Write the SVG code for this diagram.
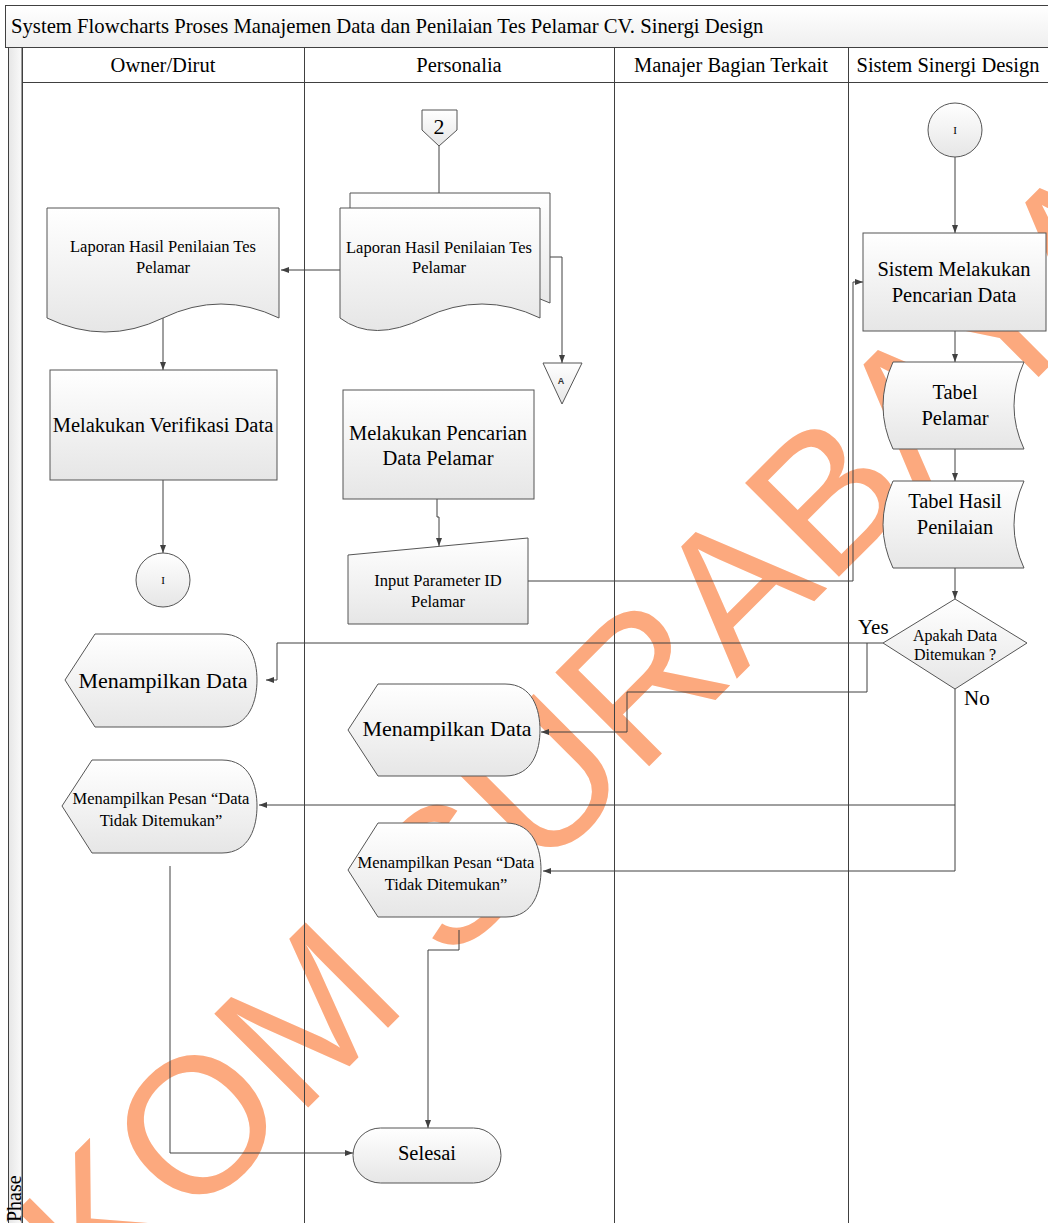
<svg xmlns="http://www.w3.org/2000/svg" width="1048" height="1223" viewBox="0 0 1048 1223">
  <defs>
    <linearGradient id="shade" x1="0" y1="0" x2="0" y2="1">
      <stop offset="0" stop-color="#ffffff"/>
      <stop offset="1" stop-color="#e6e6e6"/>
    </linearGradient>
    <linearGradient id="barShade" x1="0" y1="0" x2="0" y2="1">
      <stop offset="0" stop-color="#ffffff"/>
      <stop offset="1" stop-color="#efefef"/>
    </linearGradient>
    <linearGradient id="stripShade" x1="0" y1="0" x2="1" y2="0">
      <stop offset="0" stop-color="#e6e6e6"/>
      <stop offset="1" stop-color="#fafafa"/>
    </linearGradient>
    <marker id="arrow" viewBox="0 0 8 6" refX="8" refY="3" markerWidth="8" markerHeight="6" markerUnits="userSpaceOnUse" orient="auto">
      <path d="M0,0 L8,3 L0,6 z" fill="#404040"/>
    </marker>
  </defs>
  <style>
    .t { font-family: "Liberation Serif", "Times New Roman", serif; fill: #000; }
    .shape { fill: url(#shade); stroke: #555; stroke-width: 1; }
    .lane { fill: none; stroke: #404040; stroke-width: 1; }
    .conn-a { fill: none; stroke: #404040; stroke-width: 1; marker-end: url(#arrow); }
    .wm { font-family: "Liberation Sans", Arial, sans-serif; fill: #fca97e; }
  </style>

  <rect x="0" y="0" width="1048" height="1223" fill="#ffffff"/>

  <!-- watermark behind the chart -->
  <g id="watermark">
    <text class="wm" font-size="193" x="-504" y="69" transform="translate(195,1123) rotate(-45)">STIKOM SURABAYA</text>
  </g>

  <!-- pool frame, title bar and swimlanes -->
  <g id="pool">
    <rect x="5.5" y="5.5" width="1050" height="42" fill="url(#barShade)" stroke="#404040"/>
    <text class="t" x="11" y="33" font-size="20.7">System Flowcharts Proses Manajemen Data dan Penilaian Tes Pelamar CV. Sinergi Design</text>
    <rect x="8.5" y="47.5" width="13.5" height="1180" fill="url(#stripShade)" stroke="#404040"/>
    <text class="t" font-size="20" transform="translate(21,1222) rotate(-90)">Phase</text>
    <rect x="22" y="48" width="1030" height="34" fill="#ffffff"/>
    <path class="lane" d="M22,82.5 H1048"/>
    <path class="lane" d="M22.5,48 V1223 M304.5,48 V1223 M614.5,48 V1223 M848.5,48 V1223"/>
    <text class="t" x="163" y="72" font-size="20.5" text-anchor="middle">Owner/Dirut</text>
    <text class="t" x="459" y="72" font-size="20.5" text-anchor="middle">Personalia</text>
    <text class="t" x="731" y="72" font-size="20.5" text-anchor="middle">Manajer Bagian Terkait</text>
    <text class="t" x="948" y="72" font-size="20.5" text-anchor="middle">Sistem Sinergi Design</text>
  </g>

  <!-- connectors -->
  <g id="connectors">
    <path class="conn-a" d="M439,146 V207"/>
    <path class="conn-a" d="M340,270 H281"/>
    <path class="conn-a" d="M550,257 H562 V363"/>
    <path class="conn-a" d="M163,318 V370"/>
    <path class="conn-a" d="M163,480 V553"/>
    <path class="conn-a" d="M437,499 V517 H439 V546"/>
    <path class="conn-a" d="M528,581 H853 V282 H863"/>
    <path class="conn-a" d="M955,157 V233"/>
    <path class="conn-a" d="M955,331 V362"/>
    <path class="conn-a" d="M955,449 V481"/>
    <path class="conn-a" d="M955,568 V599"/>
    <path class="conn-a" d="M883,643 H277 V680 H266"/>
    <path class="conn-a" d="M867,643 V692 H627 V732 H541"/>
    <path class="conn-a" d="M955,689 V805 H259"/>
    <path class="conn-a" d="M955,805 V871 H543"/>
    <path class="conn-a" d="M170,866 V1153 H353"/>
    <path class="conn-a" d="M459,930 V950 H428 V1128"/>
  </g>

  <!-- Owner/Dirut lane -->
  <g id="owner-laporan">
    <path class="shape" d="M47,208 H279 V318 Q221,290 163,318 Q105,346 47,318 Z"/>
    <text class="t" font-size="16.5" text-anchor="middle"><tspan x="163" y="252">Laporan Hasil Penilaian Tes</tspan><tspan x="163" y="273">Pelamar</tspan></text>
  </g>
  <g id="owner-verifikasi">
    <rect class="shape" x="50" y="370" width="227" height="110"/>
    <text class="t" x="163" y="432" font-size="20.5" text-anchor="middle">Melakukan Verifikasi Data</text>
  </g>
  <g id="owner-connector-i">
    <circle class="shape" cx="163" cy="580" r="27"/>
    <text class="t" x="163" y="584" font-size="11" text-anchor="middle">I</text>
  </g>
  <g id="owner-tampil-data">
    <path class="shape" d="M65,680 L95,634 H222 C250,634 257,660 257,680 C257,700 250,727 222,727 H95 Z"/>
    <text class="t" x="163" y="688" font-size="22" text-anchor="middle">Menampilkan Data</text>
  </g>
  <g id="owner-tampil-pesan">
    <path class="shape" d="M62,806 L92,760 H222 C250,760 257,786 257,806 C257,826 250,853 222,853 H92 Z"/>
    <text class="t" font-size="16.5" text-anchor="middle"><tspan x="161" y="804">Menampilkan Pesan “Data</tspan><tspan x="161" y="826">Tidak Ditemukan”</tspan></text>
  </g>

  <!-- Personalia lane -->
  <g id="personalia-offpage-2">
    <path class="shape" d="M422,110 H457 V130 L439,146 L422,130 Z"/>
    <text class="t" x="439" y="134" font-size="22" text-anchor="middle">2</text>
  </g>
  <g id="personalia-laporan">
    <path class="shape" d="M350,193 H550 V303 Q490,275 430,303 Q380,328 350,303 Z"/>
    <path class="shape" d="M340,208 H540 V318 Q482,290 424,318 Q373,343 340,318 Z"/>
    <text class="t" font-size="16.5" text-anchor="middle"><tspan x="439" y="253">Laporan Hasil Penilaian Tes</tspan><tspan x="439" y="273">Pelamar</tspan></text>
  </g>
  <g id="personalia-offpage-a">
    <path class="shape" d="M543,363 H582 L562,404 Z"/>
    <text x="561" y="384" font-size="9" font-weight="bold" font-family="Liberation Sans, Arial, sans-serif" fill="#333" text-anchor="middle">A</text>
  </g>
  <g id="personalia-pencarian">
    <rect class="shape" x="343" y="390" width="191" height="109"/>
    <text class="t" font-size="20.5" text-anchor="middle"><tspan x="438" y="440">Melakukan Pencarian</tspan><tspan x="438" y="465">Data Pelamar</tspan></text>
  </g>
  <g id="personalia-input">
    <path class="shape" d="M348,555 L528,538 V624 H348 Z"/>
    <text class="t" font-size="16.5" text-anchor="middle"><tspan x="438" y="586">Input Parameter ID</tspan><tspan x="438" y="607">Pelamar</tspan></text>
  </g>
  <g id="personalia-tampil-data">
    <path class="shape" d="M348,730 L378,684 H505 C533,684 540,710 540,730 C540,750 533,776 505,776 H378 Z"/>
    <text class="t" x="447" y="736" font-size="22" text-anchor="middle">Menampilkan Data</text>
  </g>
  <g id="personalia-tampil-pesan">
    <path class="shape" d="M348,870 L378,823 H506 C534,823 541,850 541,870 C541,890 534,917 506,917 H378 Z"/>
    <text class="t" font-size="16.5" text-anchor="middle"><tspan x="446" y="868">Menampilkan Pesan “Data</tspan><tspan x="446" y="890">Tidak Ditemukan”</tspan></text>
  </g>
  <g id="selesai">
    <rect class="shape" x="353" y="1128" width="148" height="55" rx="27.5" ry="27.5"/>
    <text class="t" x="427" y="1160" font-size="20.5" text-anchor="middle">Selesai</text>
  </g>

  <!-- Sistem Sinergi Design lane -->
  <g id="sistem-connector-i">
    <circle class="shape" cx="955" cy="130" r="27"/>
    <text class="t" x="955" y="134" font-size="11" text-anchor="middle">I</text>
  </g>
  <g id="sistem-pencarian">
    <rect class="shape" x="863" y="233" width="183" height="98"/>
    <text class="t" font-size="20.5" text-anchor="middle"><tspan x="954" y="276">Sistem Melakukan</tspan><tspan x="954" y="302">Pencarian Data</tspan></text>
  </g>
  <g id="tabel-pelamar">
    <path class="shape" d="M893,362 H1024 Q1004,406 1024,449 H893 Q873,406 893,362 Z"/>
    <text class="t" font-size="20.5" text-anchor="middle"><tspan x="955" y="399">Tabel</tspan><tspan x="955" y="425">Pelamar</tspan></text>
  </g>
  <g id="tabel-hasil">
    <path class="shape" d="M893,481 H1024 Q1004,525 1024,568 H893 Q873,525 893,481 Z"/>
    <text class="t" font-size="20.5" text-anchor="middle"><tspan x="955" y="508">Tabel Hasil</tspan><tspan x="955" y="534">Penilaian</tspan></text>
  </g>
  <g id="keputusan">
    <path class="shape" d="M955,599 L1027,643 L955,689 L883,643 Z"/>
    <text class="t" font-size="16" text-anchor="middle"><tspan x="955" y="641">Apakah Data</tspan><tspan x="955" y="660">Ditemukan ?</tspan></text>
  </g>
  <g id="labels">
    <text class="t" x="858" y="634" font-size="21">Yes</text>
    <text class="t" x="964" y="705" font-size="21">No</text>
  </g>
</svg>
